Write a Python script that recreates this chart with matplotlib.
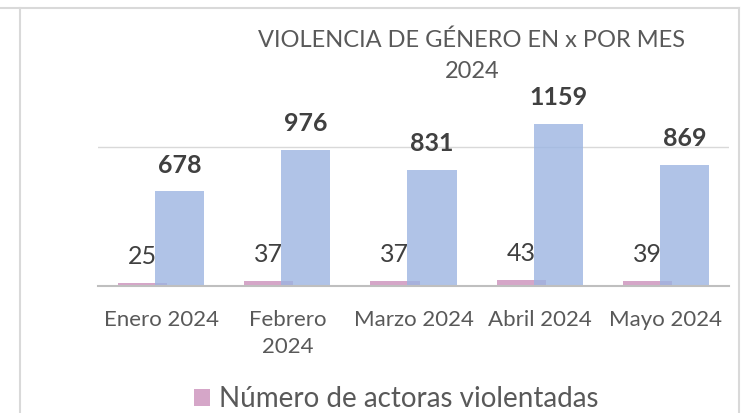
import numpy as np
import matplotlib
matplotlib.use('Agg')
import matplotlib.pyplot as plt
from matplotlib.lines import Line2D

plt.rcParams['font.family'] = ['Lato', 'DejaVu Sans']

# --- Datos ---
meses = ['Enero 2024', 'Febrero\n2024', 'Marzo 2024', 'Abril 2024', 'Mayo 2024']
actoras = [25, 37, 37, 43, 39]
casos = [678, 976, 831, 1159, 869]
titulo = 'VIOLENCIA DE GÉNERO EN x POR MES\n2024'
serie_actoras = 'Número de actoras violentadas'
serie_casos = 'Casos de violencia de género'

W, H = 747, 413
fig = plt.figure(figsize=(W / 100, H / 100), dpi=100)

# marco del gráfico (estilo Excel)
borde = '#D9D9D9'
fig.add_artist(Line2D([0, 739 / W], [1 - 8 / H] * 2, color=borde, lw=1.5))
fig.add_artist(Line2D([20 / W] * 2, [0, 1 - 8 / H], color=borde, lw=1.5))
fig.add_artist(Line2D([739 / W] * 2, [0, 1 - 8 / H], color=borde, lw=1.5))

ax = fig.add_axes([98 / W, 1 - 286 / H, 631 / W, (286 - 90.7) / H])

x = np.arange(len(meses))
ancho = 0.39
off = 0.147
b1 = ax.bar(x - off, actoras, ancho, color='#D5A6C8', zorder=2, label=serie_actoras)
b2 = ax.bar(x + off, casos, ancho, color='#9CB5E2', alpha=0.8, zorder=3, label=serie_casos)

ax.set_xlim(-0.5, len(meses) - 0.5)
ax.set_ylim(0, 1400)
ax.set_yticks([0, 1000])
ax.yaxis.grid(True, color='#D9D9D9', lw=1)
ax.set_axisbelow(True)
ax.tick_params(left=False, labelleft=False, bottom=False)
for s in ['top', 'right', 'left']:
    ax.spines[s].set_visible(False)
ax.spines['bottom'].set_color('#BFBFBF')
ax.spines['bottom'].set_linewidth(1.5)
ax.spines['bottom'].set_zorder(4)

ax.set_xticks(x)
ax.set_xticklabels(meses, fontsize=16, color='#595959', linespacing=1.4)
ax.tick_params(axis='x', pad=14)

# etiquetas de datos
for bar in b1:
    ax.annotate(f'{bar.get_height():.0f}', (bar.get_x() + bar.get_width() / 2, bar.get_height()),
                xytext=(0, 19), textcoords='offset points', ha='center', va='center',
                fontsize=18, color='#404040')
for bar in b2:
    ax.annotate(f'{bar.get_height():.0f}', (bar.get_x() + bar.get_width() / 2, bar.get_height()),
                xytext=(0, 19), textcoords='offset points', ha='center', va='center',
                fontsize=18, fontweight='bold', color='#404040')

fig.text(472 / W, 1 - 56 / H, titulo, ha='center', va='center', fontsize=17,
         color='#595959', linespacing=1.6)

leg = fig.legend(handles=[b1], loc='center', bbox_to_anchor=(396 / W, 1 - 399 / H),
                 frameon=False, fontsize=20, handlelength=0.58, handleheight=0.58,
                 handletextpad=0.32, borderpad=0)
for t in leg.get_texts():
    t.set_color('#595959')

plt.savefig('out.png', dpi=100)
plt.close()
